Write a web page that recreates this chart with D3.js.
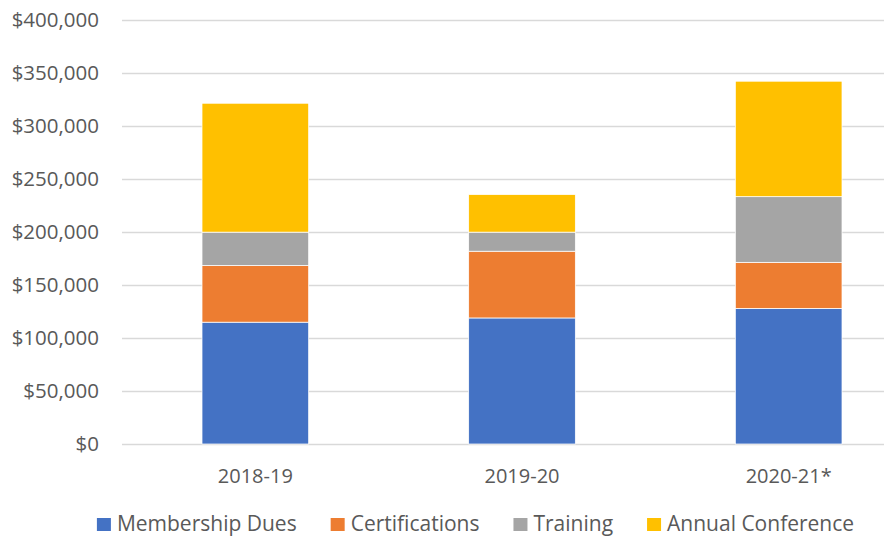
<!DOCTYPE html>
<html>
<head>
<meta charset="utf-8">
<script src="https://cdn.jsdelivr.net/npm/d3@7"></script>
<style>
  body { margin: 0; background: #fff; overflow: hidden; }
  text { font-family: "Open Sans", sans-serif; fill: #595959; }
</style>
</head>
<body>
<div id="chart"></div>
<script>
/* DATA */
const years = ["2018-19", "2019-20", "2020-21*"];
const seriesNames = ["Membership Dues", "Certifications", "Training", "Annual Conference"];
const membershipDues = [115000, 119000, 128000];
const certifications = [53500, 63000, 43500];
const training = [31500, 18000, 62000];
const annualConference = [121700, 35500, 109000];
const yTicks = [0, 50000, 100000, 150000, 200000, 250000, 300000, 350000, 400000];
const colors = ["#4472C4", "#ED7D31", "#A5A5A5", "#FFC000"];

const width = 884, height = 537;

// rows for d3.stack
const rows = years.map((y, i) => ({
  year: y,
  "Membership Dues": membershipDues[i],
  "Certifications": certifications[i],
  "Training": training[i],
  "Annual Conference": annualConference[i]
}));

const svg = d3.select("#chart").append("svg")
  .attr("width", width)
  .attr("height", height);

// scales
const xScale = d3.scaleBand()
  .domain(years)
  .range([122, 922])
  .paddingInner(0.6)
  .paddingOuter(0.3);

const yScale = d3.scaleLinear()
  .domain([0, 400000])
  .range([444, 20.3]);

const color = d3.scaleOrdinal().domain(seriesNames).range(colors);

// gridlines
svg.append("g")
  .selectAll("line")
  .data(yTicks)
  .join("line")
  .attr("x1", 122)
  .attr("x2", width)
  .attr("y1", d => Math.round(yScale(d)) + 0.5)
  .attr("y2", d => Math.round(yScale(d)) + 0.5)
  .attr("stroke", "#D9D9D9")
  .attr("stroke-width", 1.3);

// y axis labels
const fmt = d3.format("$,");
svg.append("g")
  .selectAll("text")
  .data(yTicks)
  .join("text")
  .attr("x", 99)
  .attr("y", d => yScale(d))
  .attr("dy", "0.35em")
  .attr("text-anchor", "end")
  .style("font-size", "20.5px")
  .text(d => fmt(d));

// stacked bars
const stacked = d3.stack().keys(seriesNames)(rows);

svg.append("g")
  .selectAll("g")
  .data(stacked)
  .join("g")
  .attr("fill", d => color(d.key))
  .selectAll("rect")
  .data(d => d)
  .join("rect")
  .attr("x", d => xScale(d.data.year))
  .attr("width", xScale.bandwidth())
  .attr("y", d => yScale(d[1]))
  .attr("height", d => yScale(d[0]) - yScale(d[1]))
  .attr("stroke", "#fff")
  .attr("stroke-width", 0.75);

// x axis labels
svg.append("g")
  .selectAll("text")
  .data(years)
  .join("text")
  .attr("x", d => xScale(d) + xScale.bandwidth() / 2)
  .attr("y", 483)
  .attr("text-anchor", "middle")
  .style("font-size", "20px")
  .text(d => d);

// legend
const legend = svg.append("g");
const items = legend.selectAll("g")
  .data(seriesNames)
  .join("g");

items.append("rect")
  .attr("width", 14)
  .attr("height", 13)
  .attr("y", 518)
  .attr("fill", d => color(d));

items.append("text")
  .attr("x", 20)
  .attr("y", 531)
  .style("font-size", "21px")
  .text(d => d);

// position legend items using measured text widths
let cursor = 0;
const gap = 34;
items.each(function () {
  const w = 20 + this.querySelector("text").getComputedTextLength();
  d3.select(this).attr("transform", `translate(${cursor},0)`);
  cursor += w + gap;
});
const total = cursor - gap;
legend.attr("transform", `translate(${475.5 - total / 2},0)`);
</script>
</body>
</html>
